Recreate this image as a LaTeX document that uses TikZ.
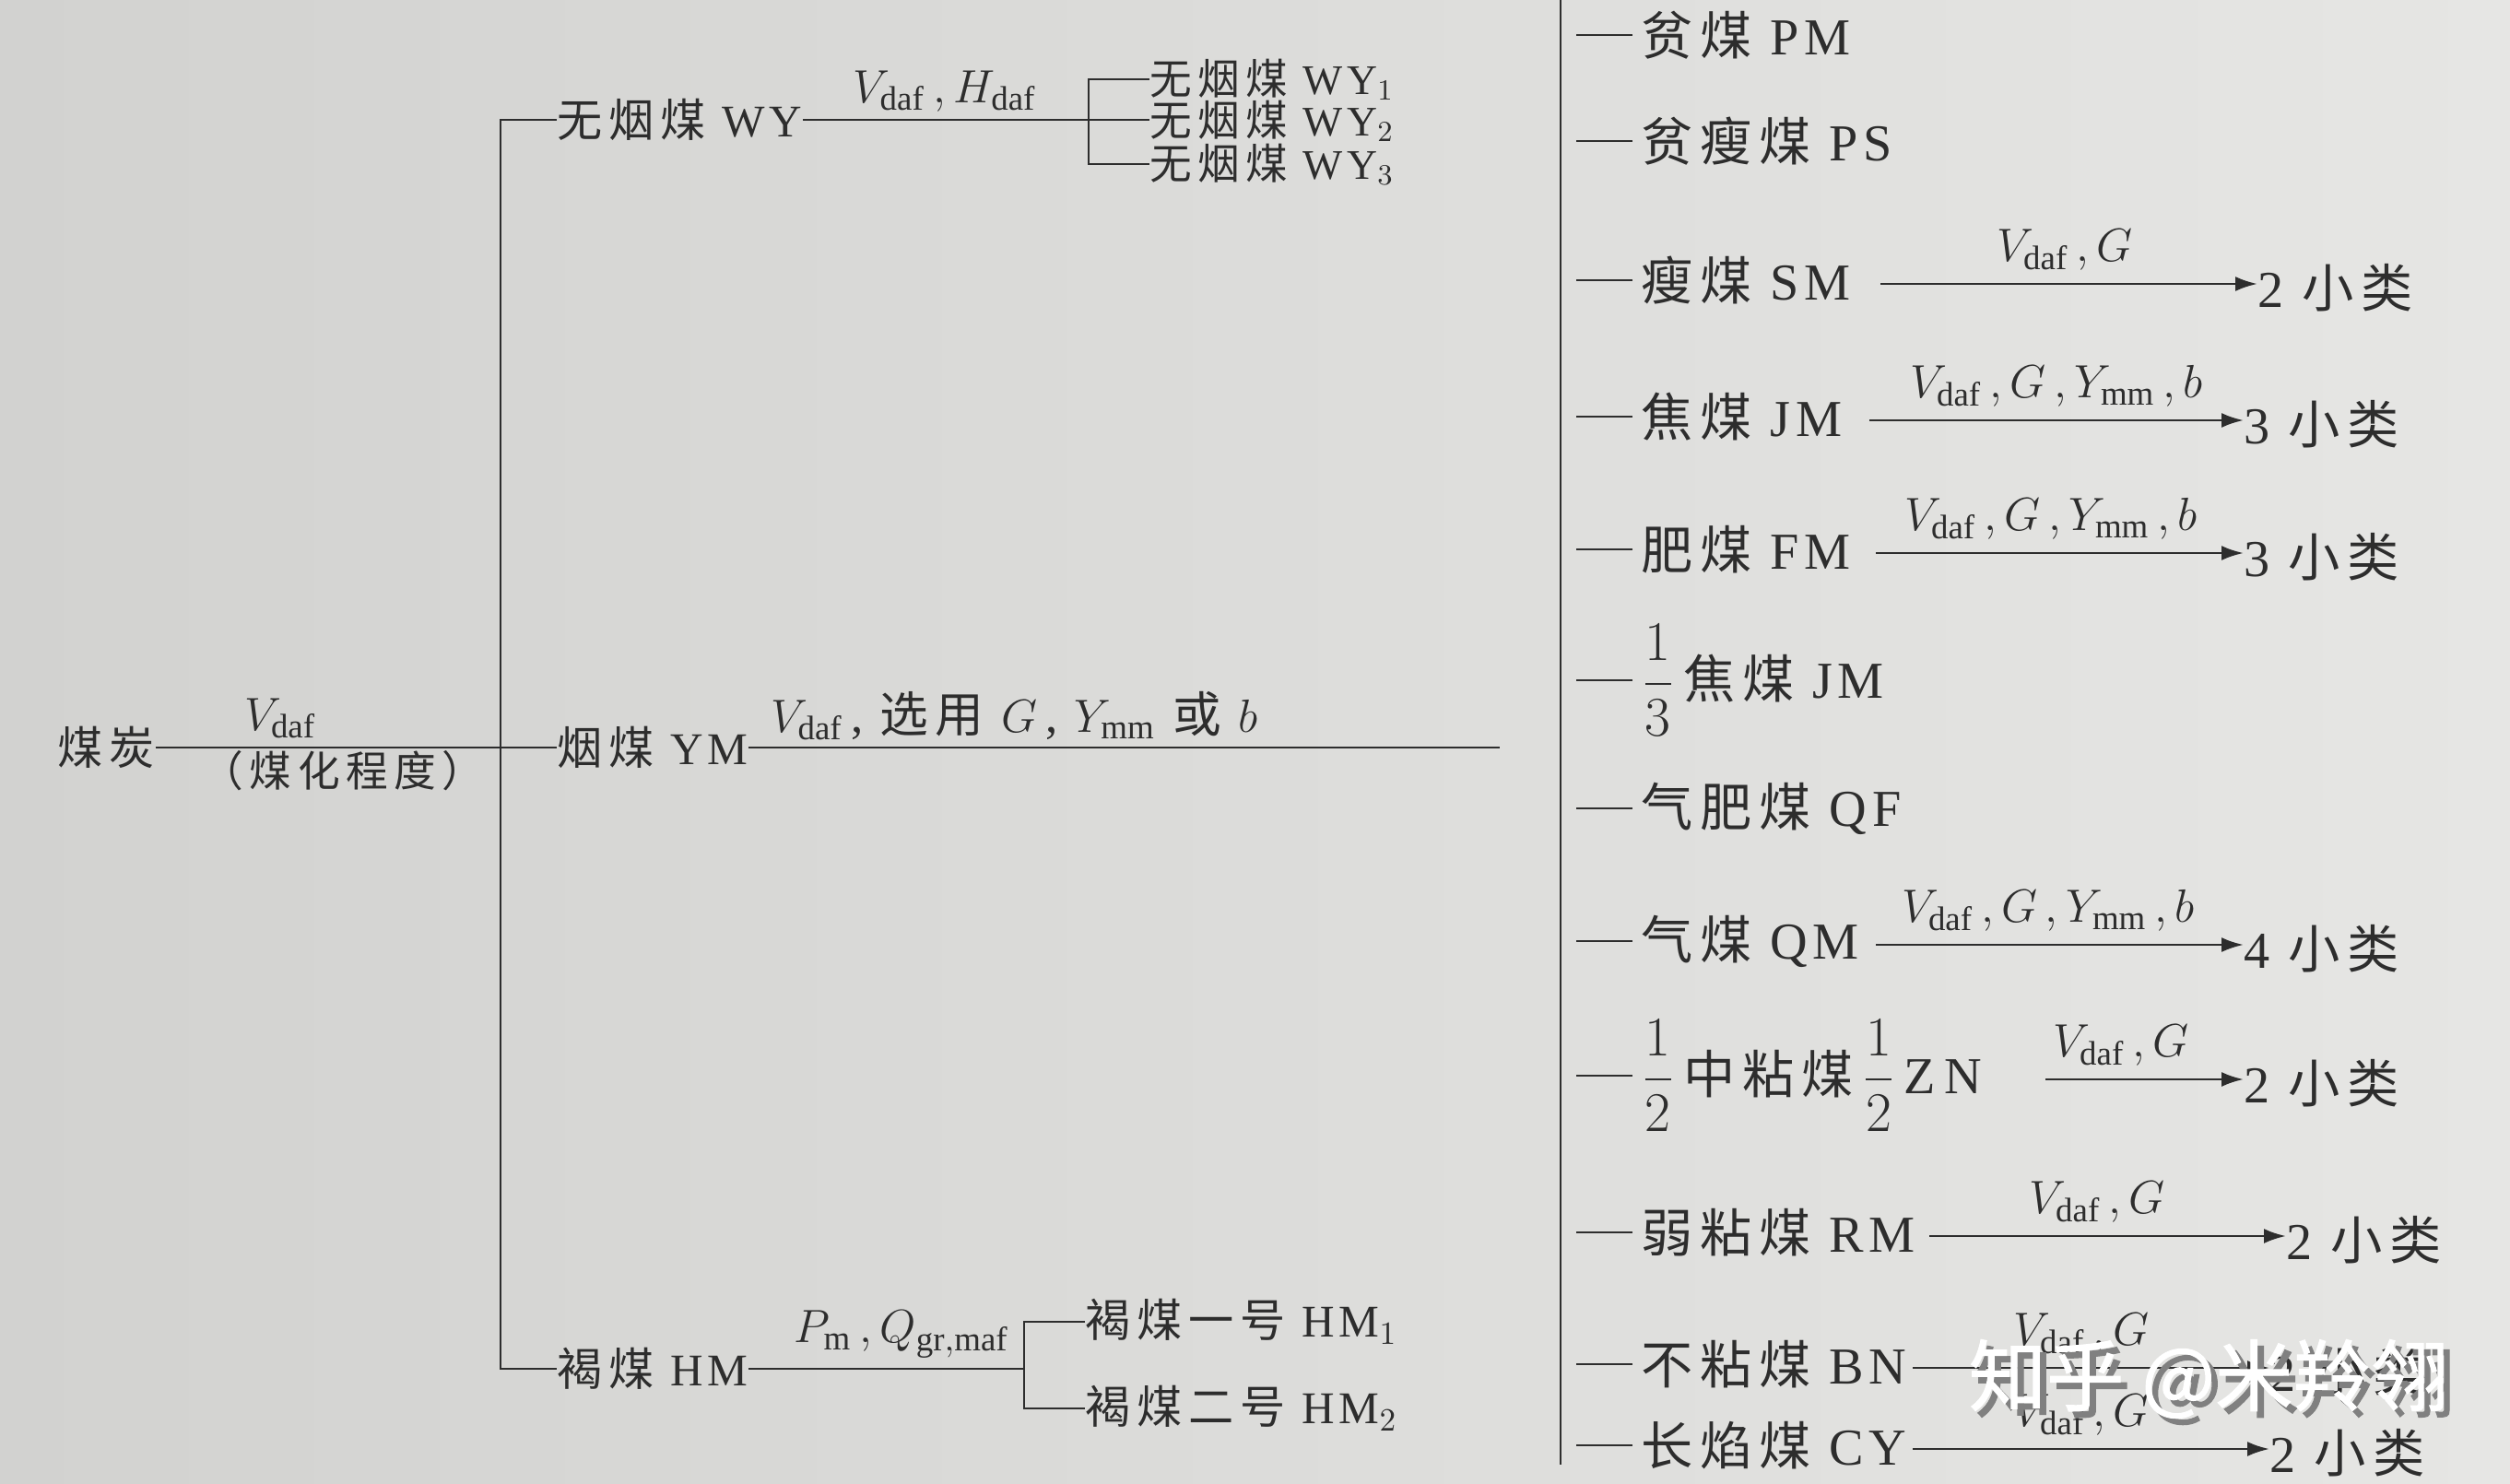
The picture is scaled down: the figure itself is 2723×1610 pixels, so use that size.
\documentclass[tikz,border=0pt]{standalone}
\usepackage{amsmath}
\usepackage{fontspec}
\setmainfont[LetterSpace=10]{Liberation Serif}
\newfontfamily\zh[LetterSpace=14]{Noto Sans CJK SC}
\newfontfamily\wmfont[FakeBold=1.2]{Noto Sans CJK SC}
\newcommand\Zh[1]{{\zh #1}}
\usetikzlibrary{arrows.meta}
\definecolor{paperL}{RGB}{210,210,208}
\definecolor{paperR}{RGB}{230,230,228}
\definecolor{ink}{RGB}{45,45,45}
\begin{document}
\begin{tikzpicture}[x=0.1mm,y=-0.1mm,
  every node/.style={text=ink, inner sep=0pt},
  lt/.style={font=\fontsize{14}{16}\selectfont, anchor=west},
  lts/.style={font=\fontsize{13}{15}\selectfont, anchor=west},
  rt/.style={font=\fontsize{16}{18}\selectfont, anchor=west},
  lab/.style={font=\fontsize{15}{17}\selectfont, anchor=south},
  ln/.style={draw=ink, line width=0.8pt},
  stub/.style={draw=ink, line width=0.6pt},
  arr/.style={ln, -{Latex[length=2.4mm,width=1.6mm]}},
]
\useasboundingbox (0,0) rectangle (2723,1610);
\shade[left color=paperL, right color=paperR] (0,0) rectangle (2723,1610);

% ---------- left part ----------
\node[lt] (coal) at (62,811) {\Zh{煤炭}};
\node[lt] (ym) at (604,811) {\Zh{烟煤} YM};
\node[lt] (wy) at (604,130) {\Zh{无烟煤} WY};
\node[lt] (hm) at (604,1485) {\Zh{褐煤} HM};

\draw[ln] (coal) -- (ym);
\node[lab] (vdaf) at (304,802) {$V_{\rm daf}$};
\node[font=\fontsize{13}{15}\selectfont] (deg) at (372,836) {\Zh{（煤化程度）}};
\draw[ln] (wy.west) -- ++(-61,0) |- (hm.west);

% anthracite
\node[lts] (wy1) at (1247,86) {\Zh{无烟煤} WY$_1$};
\node[lts] (wy2) at (1247,131) {\Zh{无烟煤} WY$_2$};
\node[lts] (wy3) at (1247,178) {\Zh{无烟煤} WY$_3$};
\draw[ln] (wy.east) -- (wy2.west |- wy.east);
\draw[ln] (wy1.west) -- ++(-66,0) |- (wy3.west);
\node[lab] (wylab) at (1025,122) {$V_{\rm daf}\,,H_{\rm daf}$};

% bituminous
\coordinate (ymend) at (1627,811);
\draw[ln] (ym) -- (ymend);
\node[lab, anchor=south west] (ymlab) at (836,804) {$V_{\rm daf}$\,, \Zh{选用} $G$\,, $Y_{\rm mm}$ \Zh{或} $b$};

% lignite
\coordinate (hmb) at (1111,1485);
\draw[ln] (hm) -- (hmb);
\node[lt] (hm1) at (1177,1434) {\Zh{褐煤一号} HM$_1$};
\node[lt] (hm2) at (1177,1528) {\Zh{褐煤二号} HM$_2$};
\draw[ln] (hm1.west) -- ++(-66,0) |- (hm2.west);
\node[lab] (hmlab) at (978,1474) {$P_{\rm m}\,,Q_{\rm gr,maf}$};

% ---------- right part ----------
\coordinate (vt) at (1693,0);
\coordinate (vb) at (1693,1589);
\draw[ln] (vt) -- (vb);

\node[rt] (pm) at (1780,38) {\Zh{贫煤} PM};
\node[rt] (ps) at (1780,153) {\Zh{贫瘦煤} PS};
\node[rt] (sm) at (1780,304) {\Zh{瘦煤} SM};
\node[rt] (jm) at (1780,452) {\Zh{焦煤} JM};
\node[rt] (fm) at (1780,596) {\Zh{肥煤} FM};
\node[rt] (jm3) at (1780,738) {$\dfrac{1}{3}$\,\Zh{焦煤} JM};
\node[rt] (qf) at (1780,877) {\Zh{气肥煤} QF};
\node[rt] (qm) at (1780,1021) {\Zh{气煤} QM};
\node[rt] (zn) at (1780,1167) {$\dfrac{1}{2}$\,\Zh{中粘煤}\,$\dfrac{1}{2}$\,Z\,N};
\node[rt] (rm) at (1780,1337) {\Zh{弱粘煤} RM};
\node[rt] (bn) at (1780,1480) {\Zh{不粘煤} BN};
\node[rt] (cy) at (1780,1568) {\Zh{长焰煤} CY};

\foreach \n in {pm,ps,sm,jm,fm,jm3,qf,qm,zn,rm,bn,cy}
  \draw[stub] ([xshift=-0.9mm]\n.west) -- ++(-61,0);

% sub-class counts
\node[rt] (smc) at (2449,312) {2 \Zh{小类}};
\node[rt] (jmc) at (2434,460) {3 \Zh{小类}};
\node[rt] (fmc) at (2434,604) {3 \Zh{小类}};
\node[rt] (qmc) at (2434,1029) {4 \Zh{小类}};
\node[rt] (znc) at (2434,1175) {2 \Zh{小类}};
\node[rt] (rmc) at (2480,1345) {2 \Zh{小类}};
\node[rt] (bnc) at (2462,1488) {2 \Zh{小类}};
\node[rt] (cyc) at (2462,1576) {2 \Zh{小类}};

\coordinate (sma) at (2040,308);
\coordinate (jma) at (2028,456);
\coordinate (fma) at (2035,600);
\coordinate (qma) at (2035,1025);
\coordinate (zna) at (2219,1171);
\coordinate (rma) at (2093,1341);
\coordinate (bna) at (2075,1484);
\coordinate (cya) at (2075,1572);

\draw[arr] (sma) -- (smc.west |- sma);
\draw[arr] (jma) -- (jmc.west |- jma);
\draw[arr] (fma) -- (fmc.west |- fma);
\draw[arr] (qma) -- (qmc.west |- qma);
\draw[arr] (zna) -- (znc.west |- zna);
\draw[arr] (rma) -- (rmc.west |- rma);
\draw[arr] (bna) -- (bnc.west |- bna);
\draw[arr] (cya) -- (cyc.west |- cya);

\node[lab] (smlab) at (2240,294) {$V_{\rm daf}\,,G$};
\node[lab] (jmlab) at (2231,442) {$V_{\rm daf}\,,G\,,Y_{\rm mm}\,,b$};
\node[lab] (fmlab) at (2225,586) {$V_{\rm daf}\,,G\,,Y_{\rm mm}\,,b$};
\node[lab] (qmlab) at (2222,1011) {$V_{\rm daf}\,,G\,,Y_{\rm mm}\,,b$};
\node[lab] (znlab) at (2301,1157) {$V_{\rm daf}\,,G$};
\node[lab] (rmlab) at (2275,1327) {$V_{\rm daf}\,,G$};
\node[lab] (bnlab) at (2258,1470) {$V_{\rm daf}\,,G$};
\node[lab] (cylab) at (2258,1558) {$V_{\rm daf}\,,G$};

% watermark
\node[font=\wmfont\fontsize{24}{26}\selectfont, text=black!50] (wmks) at (2403,1503) {知乎 @米羚翎};
\node[font=\wmfont\fontsize{24}{26}\selectfont, text=white] (wmk) at (2396,1496) {知乎 @米羚翎};
\end{tikzpicture}
\end{document}
